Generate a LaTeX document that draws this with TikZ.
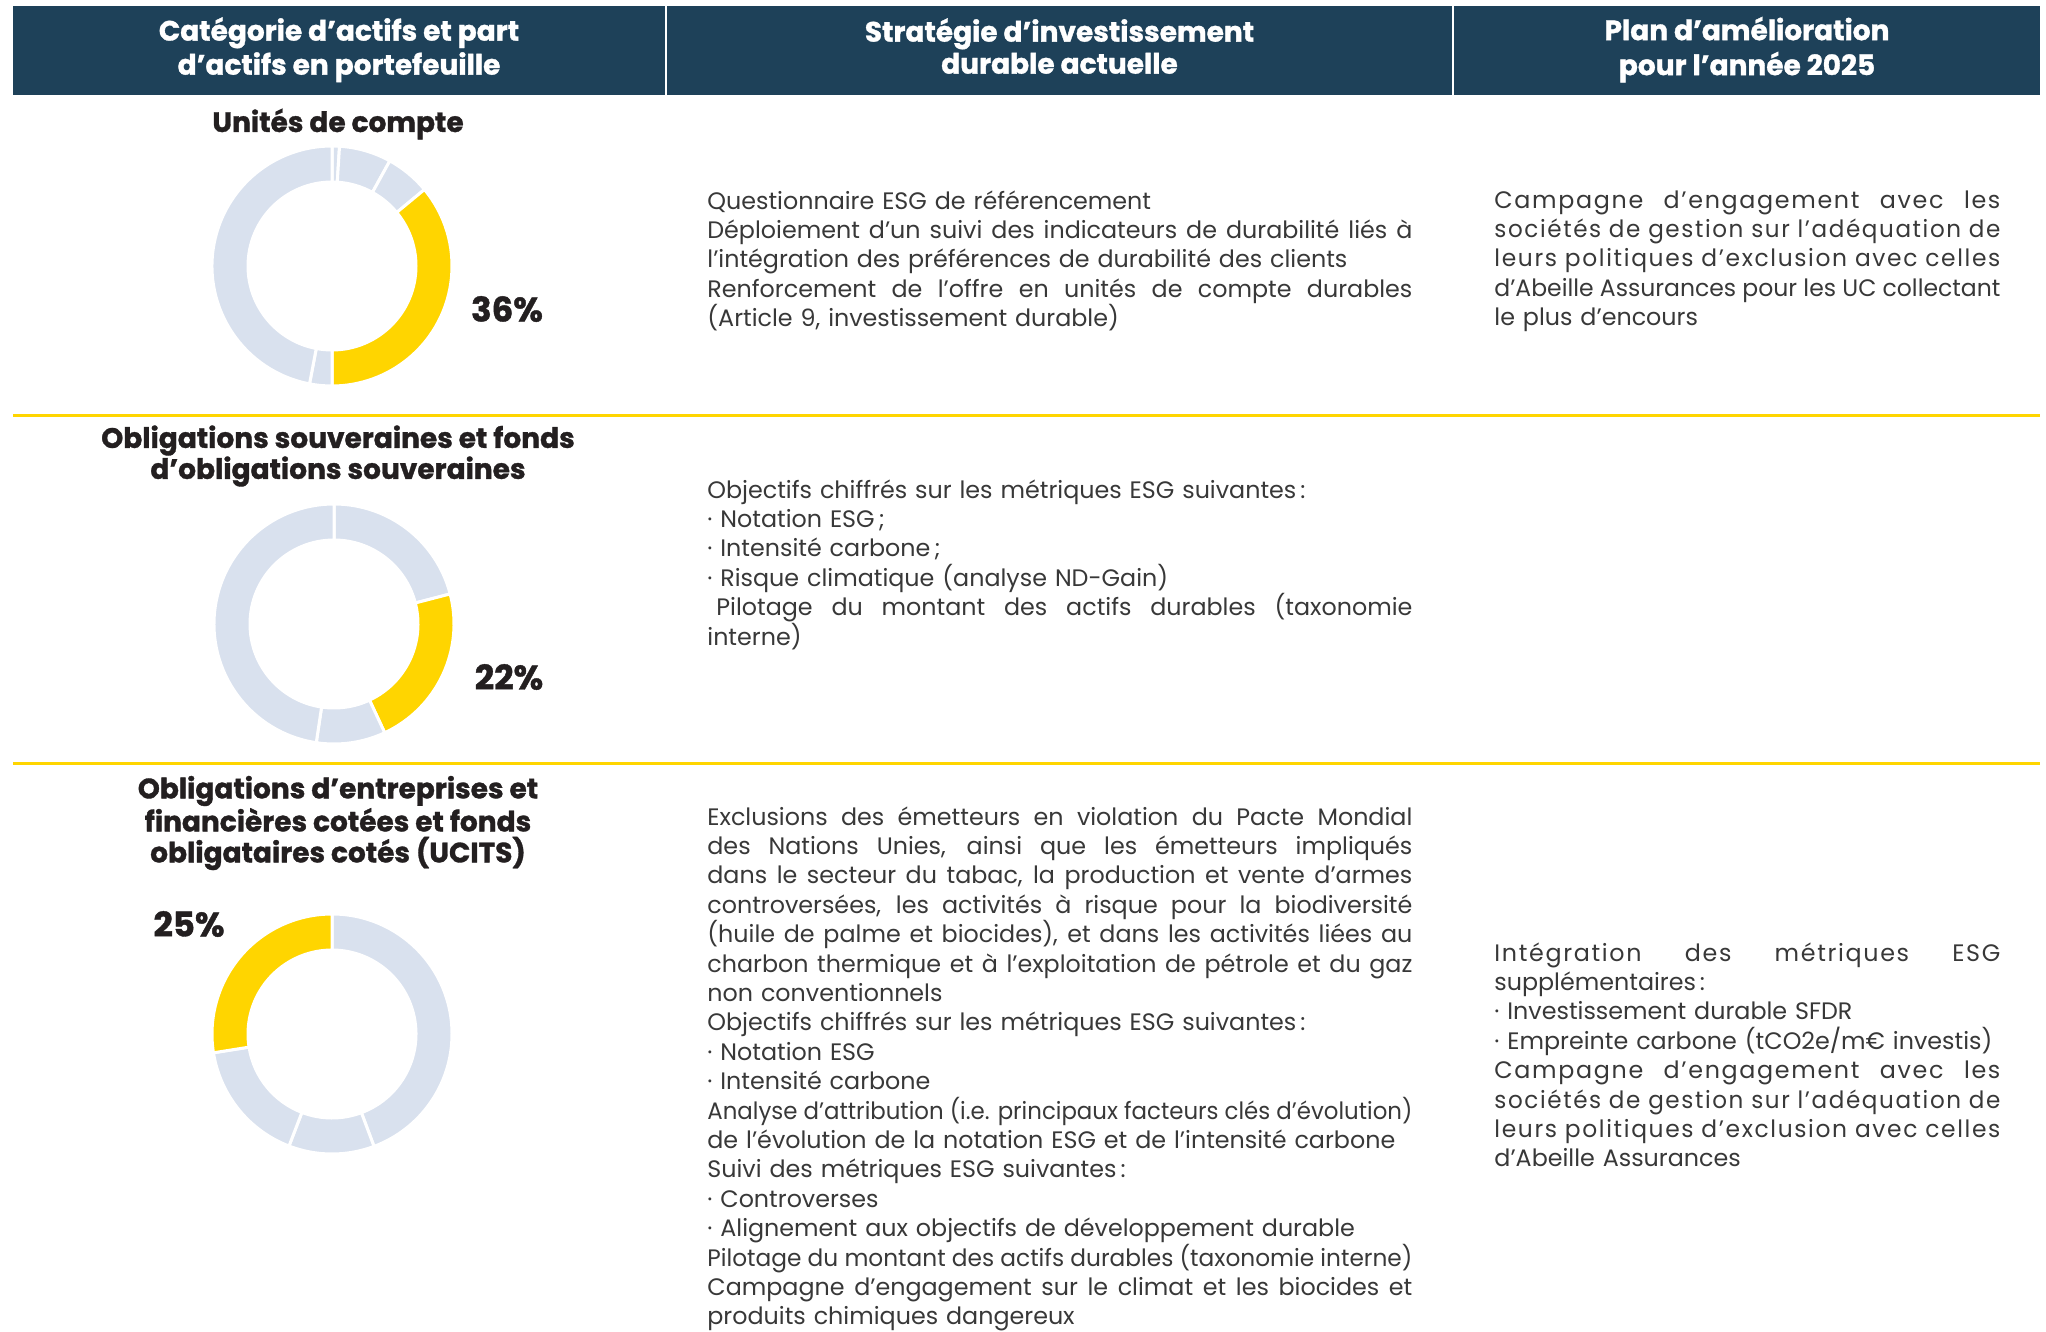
\documentclass[tikz,border=0pt]{standalone}
\usepackage{fontspec}
\setmainfont{Poppins}[BoldFeatures={FakeBold=1.2}]
\usepackage{graphicx}
\usetikzlibrary{positioning}

\definecolor{navy}{HTML}{1E4159}
\definecolor{gold}{HTML}{FFD500}
\definecolor{mist}{HTML}{D9E1EE}
\definecolor{ink}{HTML}{231F20}
\definecolor{bodytext}{HTML}{383838}

\newcommand{\fillto}[2]{\sbox0{\spaceskip=0pt\xspaceskip=0pt\relax #2}\ifdim\wd0>#1\relax\resizebox{#1}{\ht0}{\usebox0}\else\makebox[#1][s]{\spaceskip=0pt\xspaceskip=0pt\relax #2}\fi}
\newcommand{\jb}[1]{\fillto{352.5pt}{#1}}
\newcommand{\jc}[1]{\fillto{253pt}{#1}}
\newcommand{\jcs}[1]{\fillto{253pt}{\addfontfeature{LetterSpace=7}#1}}

\tikzstyle{headcell} = [rectangle, fill=navy, text=white, font=\bfseries\fontsize{14}{16}\selectfont, align=center, inner sep=0pt, minimum height=44.25pt]
\tikzstyle{rowtitle} = [font=\bfseries\fontsize{14}{15.5}\selectfont, text=ink, align=center, inner sep=0pt]
\tikzstyle{pct} = [font=\bfseries\fontsize{17}{18}\selectfont, text=ink, inner sep=0pt]
\tikzstyle{strategy} = [anchor=north west, text width=352.5pt, align=left, font=\fontsize{11.9}{14.7}\selectfont, text=bodytext, inner sep=0pt]
\tikzstyle{plan} = [strategy, text width=253pt]
\tikzstyle{slice} = [draw=white, line width=1.5pt]
\tikzstyle{divider} = [draw=gold, line width=1.5pt]

\begin{document}
\begin{tikzpicture}[x=0.5pt, y=0.5pt]
\useasboundingbox (0,0) rectangle (2046,-1332);

\node (hcat) [headcell, minimum width=326pt] at (339,-50.75) {\strut Catégorie d’actifs et part\\d’actifs en portefeuille\strut};
\node (hstrat) [headcell, minimum width=392.5pt] at (1059.5,-50.75) {\strut Stratégie d’investissement\\durable actuelle\strut};
\node (hplan) [headcell, minimum width=293pt] at (1747,-50.75) {\strut Plan d’amélioration\\pour l’année 2025\strut};

\draw [divider] (13,-415) -- (2040,-415);
\draw [divider] (13,-763) -- (2040,-763);

\node (tuc) [rowtitle] at (338,-124) {Unités de compte};
\node (tsov) [rowtitle] at (338,-456) {Obligations souveraines et fonds\\d’obligations souveraines};
\node (tcorp) [rowtitle] at (338,-823) {Obligations d’entreprises et\\financières cotées et fonds\\obligataires cotés (UCITS)};

\coordinate (duc) at (332,-266);
\coordinate (dsov) at (334,-624);
\coordinate (dcorp) at (332,-1034);

\foreach \a/\b/\c in {90/86.4/mist, 86.4/61.2/mist, 61.2/39.6/mist, 39.6/-90/gold, -90/-100.8/mist, -100.8/-270/mist}
  \draw [slice, fill=\c] ([shift={(\a:120)}]duc) arc[start angle=\a, end angle=\b, radius=120] -- ([shift={(\b:84)}]duc) arc[start angle=\b, end angle=\a, radius=84] -- cycle;
\foreach \a/\b/\c in {90/14.5/mist, 14.5/-65/gold, -65/-98.5/mist, -98.5/-270/mist}
  \draw [slice, fill=\c] ([shift={(\a:120)}]dsov) arc[start angle=\a, end angle=\b, radius=120] -- ([shift={(\b:84)}]dsov) arc[start angle=\b, end angle=\a, radius=84] -- cycle;
\foreach \a/\b/\c in {90/-69.5/mist, -69.5/-111/mist, -111/-171/mist, -171/-270/gold}
  \draw [slice, fill=\c] ([shift={(\a:120)}]dcorp) arc[start angle=\a, end angle=\b, radius=120] -- ([shift={(\b:84)}]dcorp) arc[start angle=\b, end angle=\a, radius=84] -- cycle;

\node (puc) [pct] at (507,-309) {36\%};
\node (psov) [pct] at (509,-677) {22\%};
\node (pcorp) [pct] at (189,-924) {25\%};

\node (suc) [strategy] at (707,-190) {Questionnaire ESG de référencement\\
\jb{Déploiement d’un suivi des indicateurs de durabilité liés à}\\
l’intégration des préférences de durabilité des clients\\
\jb{Renforcement de l’offre en unités de compte durables}\\
(Article 9, investissement durable)};

\node (auc) [plan] at (1494,-190) {\jcs{Campagne d’engagement avec les}\\
\jcs{sociétés de gestion sur l’adéquation de}\\
\jcs{leurs politiques d’exclusion avec celles}\\
\jc{d’Abeille Assurances pour les UC collectant}\\
le plus d’encours};

\node (ssov) [strategy] at (707,-479) {Objectifs chiffrés sur les métriques ESG suivantes\,:\\
· Notation ESG\,;\\
· Intensité carbone\,;\\
· Risque climatique (analyse ND-Gain)\\
\jb{\hspace{4.5pt}Pilotage du montant des actifs durables (taxonomie}\\
interne)};

\node (scorp) [strategy] at (707,-806) {\jb{Exclusions des émetteurs en violation du Pacte Mondial}\\
\jb{des Nations Unies, ainsi que les émetteurs impliqués}\\
\jb{dans le secteur du tabac, la production et vente d’armes}\\
\jb{controversées, les activités à risque pour la biodiversité}\\
\jb{(huile de palme et biocides), et dans les activités liées au}\\
\jb{charbon thermique et à l’exploitation de pétrole et du gaz}\\
non conventionnels\\
Objectifs chiffrés sur les métriques ESG suivantes\,:\\
· Notation ESG\\
· Intensité carbone\\
\jb{Analyse d’attribution (i.e. principaux facteurs clés d’évolution)}\\
de l’évolution de la notation ESG et de l’intensité carbone\\
Suivi des métriques ESG suivantes\,:\\
· Controverses\\
· Alignement aux objectifs de développement durable\\
\jb{Pilotage du montant des actifs durables (taxonomie interne)}\\
\jb{Campagne d’engagement sur le climat et les biocides et}\\
produits chimiques dangereux};

\node (acorp) [plan] at (1494,-942) {\jcs{Intégration des métriques ESG}\\
supplémentaires\,:\\
· Investissement durable SFDR\\
· Empreinte carbone (tCO2e/m€ investis)\\
\jcs{Campagne d’engagement avec les}\\
\jcs{sociétés de gestion sur l’adéquation de}\\
\jcs{leurs politiques d’exclusion avec celles}\\
d’Abeille Assurances};

\end{tikzpicture}
\end{document}
